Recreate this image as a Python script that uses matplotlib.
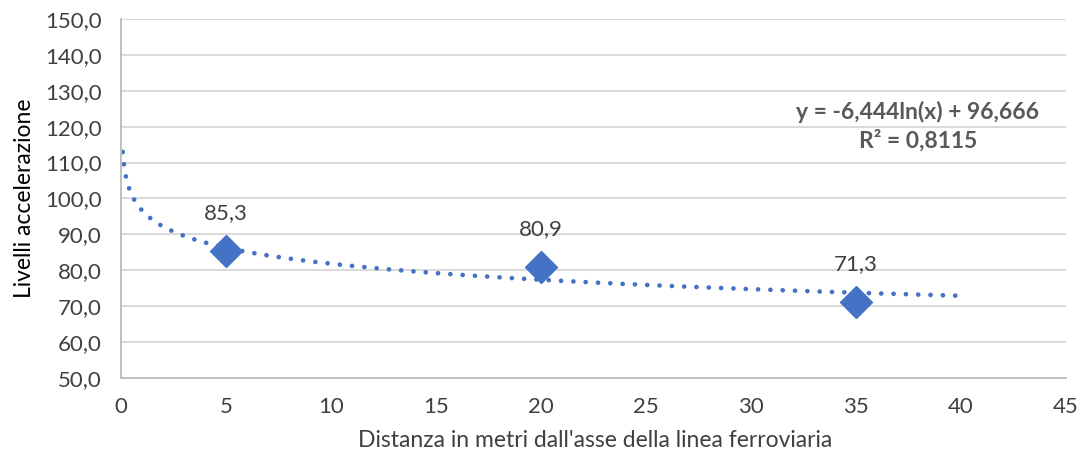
import numpy as np
import matplotlib
matplotlib.use("Agg")
import matplotlib.pyplot as plt

# dati
distanze = [5, 20, 35]
livelli = [85.3, 80.9, 71.3]
etichette = ["85,3", "80,9", "71,3"]

# linea di tendenza logaritmica (come riportata sul grafico)
trend_a = -6.444
trend_b = 96.666
trend_x_min = 0.08
trend_x_max = 40
eq_testo = "y = -6,444ln(x) + 96,666\nR² = 0,8115"

plt.rcParams["font.family"] = ["Lato", "DejaVu Sans"]

blu = "#4472C4"
grigio_testo = "#404040"

fig = plt.figure(figsize=(10.9, 4.61), dpi=100)
ax = fig.add_axes([0.111, 0.18, 0.867, 0.779])

xt = np.linspace(trend_x_min, trend_x_max, 600)
yt = trend_a * np.log(xt) + trend_b
ax.plot(xt, yt, color=blu, lw=3.4, linestyle=(0, (0.01, 2.6)),
        dash_capstyle="round", zorder=2)

ax.plot(distanze, livelli, linestyle="none", marker="D", markersize=16,
        color=blu, zorder=3)

for x, y, t in zip(distanze, livelli, etichette):
    ax.annotate(t, (x, y), xytext=(0, 20), textcoords="offset points",
                ha="center", va="bottom", fontsize=16, color=grigio_testo)

ax.text(0.843, 0.70, eq_testo, transform=ax.transAxes, ha="center",
        va="center", fontsize=16.5, fontweight="bold", color="#595959",
        linespacing=1.35)

ax.set_xlim(0, 45)
ax.set_ylim(50, 150)
ax.set_xticks(np.arange(0, 46, 5))
ax.set_yticks(np.arange(50, 151, 10))
ax.set_yticklabels(["{:.1f}".format(v).replace(".", ",") for v in np.arange(50, 151, 10)])
ax.tick_params(length=0, labelsize=16, colors=grigio_testo)
ax.tick_params(axis="y", pad=14)
ax.tick_params(axis="x", pad=14)

ax.grid(axis="y", color="#D9D9D9", lw=1.4)
ax.set_axisbelow(True)
for s in ["top", "right"]:
    ax.spines[s].set_visible(False)
for s in ["left", "bottom"]:
    ax.spines[s].set_color("#BFBFBF")
    ax.spines[s].set_linewidth(1.4)

ax.set_xlabel("Distanza in metri dall'asse della linea ferroviaria",
              fontsize=16.5, color=grigio_testo, va="center")
ax.xaxis.set_label_coords(0.502, -0.173)
ax.set_ylabel("Livelli accelerazione", fontsize=16.5, color="#000000", va="center")
ax.yaxis.set_label_coords(-0.1016, 0.5)

fig.savefig("out.png", dpi=100)
